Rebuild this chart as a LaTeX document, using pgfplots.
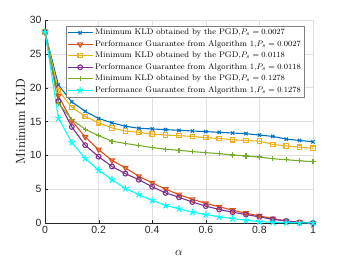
\documentclass[border=0pt]{standalone}
\usepackage{fontspec}
\newfontfamily\ticksf{Liberation Sans}
\usepackage{pgfplots}
\pgfplotsset{compat=1.18}
\usepackage{pgfplotstable}
\definecolor{mblue}{rgb}{0,0.447,0.741}
\definecolor{morange}{rgb}{0.85,0.325,0.098}
\definecolor{myellow}{rgb}{0.929,0.694,0.125}
\definecolor{mpurple}{rgb}{0.494,0.184,0.556}
\definecolor{mgreen}{rgb}{0.466,0.674,0.188}
\definecolor{mcyan}{rgb}{0,1,1}
\pgfplotstableread{
a     b     o     y     p     g     c
0     28.2  28.2  28.2  28.2  28.2  28.2
0.05  20.4  18.8  19.6  18.0  17.7  15.5
0.10  17.9  15.1  17.1  14.2  15.3  11.9
0.15  16.5  12.7  15.75 11.5  13.85 9.55
0.20  15.45 10.85 14.8  9.8   12.9  7.8
0.25  14.8  9.25  14.05 8.35  12.1  6.4
0.30  14.3  8.15  13.6  7.3   11.75 5.1
0.35  14.0  6.9   13.4  6.4   11.45 4.2
0.40  13.9  5.95  13.15 5.35  11.15 3.35
0.45  13.8  5.0   13.0  4.45  10.9  2.6
0.50  13.7  4.2   12.9  3.8   10.75 2.1
0.55  13.6  3.5   12.8  3.1   10.55 1.6
0.60  13.5  2.9   12.6  2.5   10.4  1.25
0.65  13.4  2.4   12.5  2.0   10.25 0.9
0.70  13.3  1.9   12.3  1.6   10.05 0.65
0.75  13.2  1.45  12.2  1.25  9.9   0.4
0.80  13.0  1.05  12.1  0.9   9.75  0.2
0.85  12.8  0.65  11.6  0.55  9.5   0.1
0.90  12.4  0.3   11.4  0.3   9.35  0.05
0.95  12.2  0.1   11.2  0.1   9.2   0.02
1.00  12.0  0.0   11.05 0.0   9.05  0.0
}\datatable
\begin{document}
\begin{tikzpicture}
\path[use as bounding box] (-45bp,-37bp) rectangle (301bp,223bp);
\begin{axis}[
  at={(0,0)}, anchor=south west,
  scale only axis, width=268bp, height=203bp,
  xmin=0, xmax=1, ymin=0, ymax=30,
  xtick={0,0.2,0.4,0.6,0.8,1},
  ytick={0,5,10,15,20,25,30},
  axis x line*=bottom, axis y line*=left,
  axis line style={black!85,-},
  tick align=inside, major tick length=3bp,
  tick style={black!85},
  grid=major, major grid style={black!12, line width=0.5pt},
  /pgf/number format/assume math mode=true,
  tick label style={font=\ticksf\fontsize{10.5}{12}\selectfont, black!85},
  xlabel={$\alpha$}, ylabel={Minimum KLD},
  label style={font=\fontsize{13}{15}\selectfont},
  xlabel style={yshift=-10bp},
  ylabel style={yshift=-2bp},
  legend style={at={(1,1)}, anchor=north east, xshift=-9bp, yshift=-6bp,
    font=\fontsize{8.2}{10}\selectfont, draw=black!50, fill=white,
    inner sep=1pt, row sep=0.2pt, legend cell align=left},
  legend cell align=left,
  legend image code/.code={
    \draw[mark repeat=2,mark phase=2] plot coordinates {(0cm,0cm) (0.44cm,0cm) (0.88cm,0cm)};},
  every axis plot/.append style={line width=1.1pt},
]
\addplot[mblue, mark=x, mark size=2.3pt] table[x=a,y=b]{\datatable};
\addlegendentry{Minimum KLD obtained by the PGD,$P_s=0.0027$}
\addplot[morange, mark=triangle, mark options={rotate=180}, mark size=2.8pt] table[x=a,y=o]{\datatable};
\addlegendentry{Performance Guarantee from Algorithm 1,$P_s=0.0027$}
\addplot[myellow, mark=square, mark size=2.2pt] table[x=a,y=y]{\datatable};
\addlegendentry{Minimum KLD obtained by the PGD,$P_s=0.0118$}
\addplot[mpurple, mark=o, mark size=2.4pt] table[x=a,y=p]{\datatable};
\addlegendentry{Performance Guarantee from Algorithm 1,$P_s=0.0118$}
\addplot[mgreen, mark=+, mark size=2.6pt] table[x=a,y=g]{\datatable};
\addlegendentry{Minimum KLD obtained by the PGD,$P_s=0.1278$}
\addplot[mcyan, mark=star, mark size=3.6pt, mark options={fill=mcyan}] table[x=a,y=c]{\datatable};
\addlegendentry{Performance Guarantee from Algorithm 1,$P_s=0.1278$}
\end{axis}
\end{tikzpicture}
\end{document}
